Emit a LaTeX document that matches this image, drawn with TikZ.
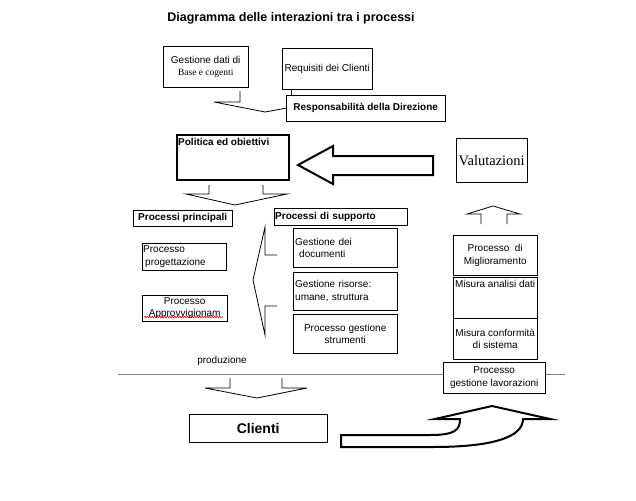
\documentclass[tikz,border=0pt]{standalone}
\usepackage{fontspec}
\setmainfont{Liberation Sans}
\newfontfamily\timesfont{Liberation Serif}
\usetikzlibrary{positioning,decorations.pathmorphing}

\begin{document}
\begin{tikzpicture}[x=1pt, y=-1pt,
boxnode/.style={draw, fill=white, inner sep=1pt, anchor=north west, align=center, font=\fontsize{10}{12.5}\selectfont},
boldnode/.style={boxnode, font=\fontsize{10}{12.5}\selectfont\bfseries},
sz/.style 2 args={minimum width=#1, minimum height=#2},
leftbox/.style={text width=#1, align=left},
openarrow/.style={draw, line width=0.8pt, line join=miter},
blockarrow/.style={draw, line width=2pt, line join=miter}]
\useasboundingbox (0,0) rectangle (636,500);

\node[font=\fontsize{12.5}{14}\selectfont\bfseries] (title) at (291,18) {Diagramma delle interazioni tra i processi};

% top
\node[boxnode, sz={85pt}{41pt}] (gd) at (163,46) {Gestione dati di\\{\timesfont\fontsize{9.5}{12}\selectfont Base e cogenti}};
\node[boxnode, sz={90pt}{41pt}] (req) at (282,48) {Requisiti dei Clienti};
\node[boldnode, sz={159pt}{26pt}] (resp) at (286,95) {Responsabilit\`a della Direzione};
\draw ([xshift=9pt]req.south west) -- ([xshift=5pt]resp.north west);
\draw[openarrow] (240,91) -- (240,102) -- (214,102) -- (265,112) -- (resp.west);

% politica / valutazioni
\node[boxnode, sz={112pt}{45pt}, line width=2pt,
  label={[anchor=north west, inner xsep=2pt, inner ysep=4pt, font=\fontsize{10}{12.5}\selectfont\bfseries]north west:Politica ed obiettivi}] (pol) at (176,134) {};
\node[boxnode, sz={71pt}{44pt}, font=\timesfont\fontsize{14.5}{16}\selectfont] (val) at (456,138) {Valutazioni};
\draw[blockarrow] (433,156) -- (333,156) -- (333,146) -- (298,165) -- (333,184) -- (333,175) -- (433,175) -- cycle;
\draw[openarrow] (209,185) -- (209,194) -- (186,194) -- (235,205) -- (287,194) -- (263,194) -- (263,185);
\draw[openarrow] (481,224) -- (481,214) -- (467,214) -- (493,206) -- (520,214) -- (507,214) -- (507,224);

% processi principali
\node[boxnode, sz={99pt}{16pt}, boldnode] (pp) at (133,210) {Processi principali};
\node[boxnode, sz={84pt}{27pt}, leftbox=82pt] (prog) at (142,243) {Processo\\\hspace{2pt}progettazione};
\node[boxnode, sz={85pt}{26pt}] (appr) at (142,295) {Processo\\Approvvigionam};
\draw[red!85!black, line width=0.6pt, decorate, decoration={snake, amplitude=0.7pt, segment length=2.5pt}] (144,317) -- (223,317);

% processi di supporto
\node[boldnode, sz={133pt}{17pt}, leftbox=131pt] (ps) at (274,208) {Processi di supporto};
\node[boxnode, sz={104pt}{39pt}, leftbox=100pt] (gdoc) at (293,228) {Gestione dei\\\hspace{4pt}documenti};
\node[boxnode, sz={104pt}{38pt}, leftbox=100pt] (gris) at (293,272) {Gestione risorse:\\umane, struttura};
\node[boxnode, sz={104pt}{39pt}] (gstr) at (293,314) {Processo gestione\\strumenti};
\draw[openarrow] (277,255) -- (265,255) -- (265,227) -- (253,280) -- (265,335) -- (265,306) -- (277,306);

% misure
\node[boxnode, sz={84pt}{40pt}] (mig) at (453,235) {Processo~~di\\Miglioramento};
\node[boxnode, sz={84pt}{41pt},
  label={[anchor=north, inner sep=2pt, yshift=-1pt, font=\fontsize{10}{12.5}\selectfont]north:Misura analisi dati}] (mad) at (453,277) {};
\node[boxnode, sz={84pt}{41pt}] (mcs) at (453,318) {Misura conformit\`a\\di sistema};

% produzione
\node[font=\fontsize{10}{12.5}\selectfont] (prod) at (222,361) {produzione};
\coordinate (l1) at (118,374);
\coordinate (l2) at (565,374);
\draw[gray, line width=1pt] (l1) -- (l2);
\node[boxnode, sz={102pt}{31pt}] (gl) at (443,362) {Processo\\gestione lavorazioni};
\draw[openarrow] (230,378) -- (230,388) -- (205,388) -- (257,398) -- (307,388) -- (282,388) -- (282,378);

% clienti
\node[boldnode, sz={138pt}{28pt}, font=\fontsize{14}{16}\selectfont\bfseries] (cli) at (189,414) {Clienti};
\draw[blockarrow] (341,447) -- (341,435) -- (430,435) .. controls (455,435) and (460,430) .. (460,419)
  -- (435,419) -- (492,406) -- (550,419) -- (523,419) .. controls (523,438) and (490,447) .. (433,447) -- cycle;
\end{tikzpicture}
\end{document}
